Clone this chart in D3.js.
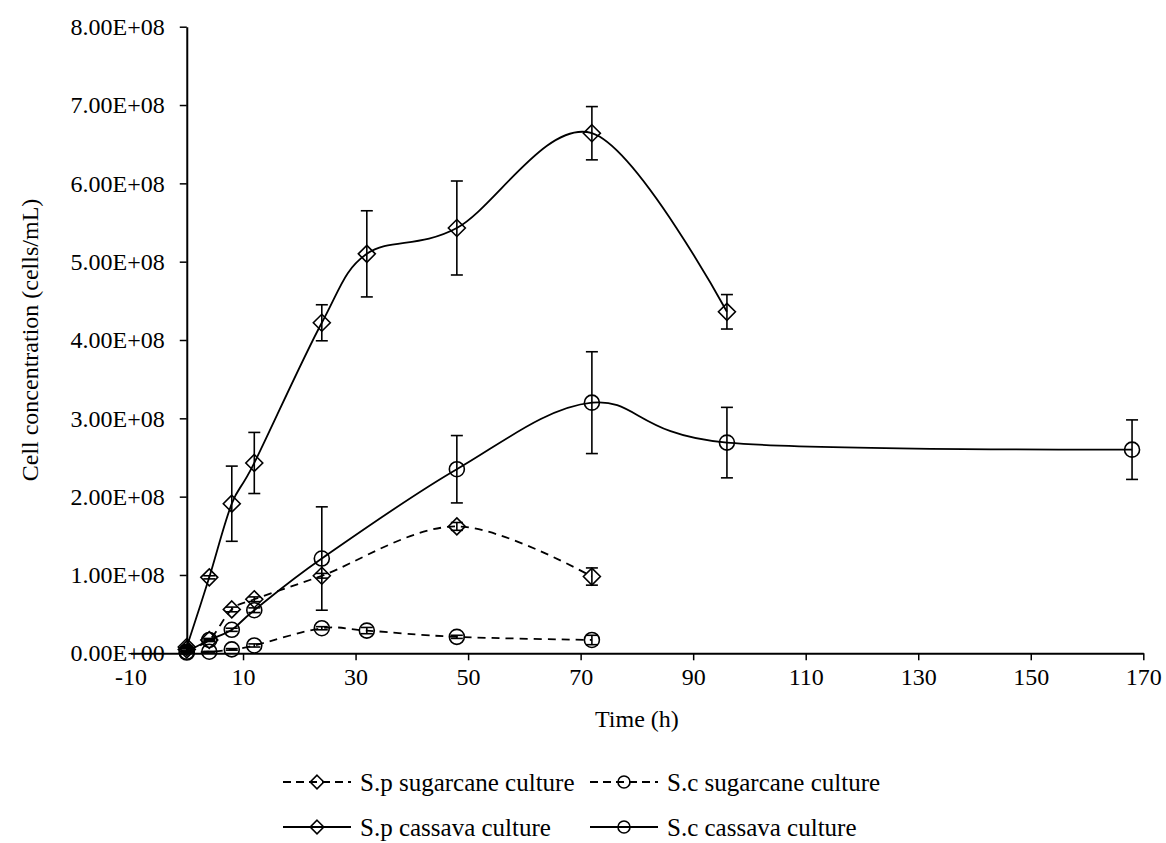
<!DOCTYPE html>
<html>
<head>
<meta charset="utf-8">
<script src="https://cdn.jsdelivr.net/npm/d3@7"></script>
<style>
  html, body { margin: 0; padding: 0; background: #fff; }
  svg { display: block; font-family: "Liberation Serif", "Times New Roman", serif; }
</style>
</head>
<body>
<svg id="chart" width="1166" height="843"></svg>
<script>
// Sampling times (h)
const timesSpSugar = [0, 4, 8, 12, 24, 48, 72];
const timesScSugar = [0, 4, 8, 12, 24, 32, 48, 72];
const timesSpCassava = [0, 4, 8, 12, 24, 32, 48, 72, 96];
const timesScCassava = [0, 4, 8, 12, 24, 48, 72, 96, 168];

// Cell concentration (cells/mL) and standard deviations
const spSugar    = [0.05e8, 0.17e8, 0.56e8, 0.69e8, 0.99e8, 1.62e8, 0.98e8];
const spSugarErr = [0.01e8, 0.01e8, 0.03e8, 0.03e8, 0.03e8, 0.05e8, 0.11e8];
const scSugar    = [0.01e8, 0.02e8, 0.05e8, 0.10e8, 0.32e8, 0.29e8, 0.21e8, 0.17e8];
const scSugarErr = [0.005e8, 0.005e8, 0.01e8, 0.02e8, 0.02e8, 0.04e8, 0.02e8, 0.06e8];
const spCassava    = [0.08e8, 0.97e8, 1.91e8, 2.43e8, 4.22e8, 5.10e8, 5.43e8, 6.64e8, 4.36e8];
const spCassavaErr = [0.01e8, 0.02e8, 0.48e8, 0.39e8, 0.23e8, 0.55e8, 0.60e8, 0.34e8, 0.22e8];
const scCassava    = [0.02e8, 0.17e8, 0.30e8, 0.55e8, 1.21e8, 2.35e8, 3.20e8, 2.69e8, 2.60e8];
const scCassavaErr = [0.005e8, 0.02e8, 0.02e8, 0.03e8, 0.66e8, 0.43e8, 0.65e8, 0.45e8, 0.38e8];

// Axis ticks
const xTicks = [-10, 10, 30, 50, 70, 90, 110, 130, 150, 170];
const yTicks = [0, 1e8, 2e8, 3e8, 4e8, 5e8, 6e8, 7e8, 8e8];

const seriesNames = ["S.p sugarcane culture", "S.c sugarcane culture", "S.p cassava culture", "S.c cassava culture"];

function build(times, vals, errs) {
  return times.map((t, i) => ({ t: t, v: vals[i], e: errs[i] }));
}

const series = [
  { name: seriesNames[0], data: build(timesSpSugar, spSugar, spSugarErr), marker: "diamond", dashed: true },
  { name: seriesNames[1], data: build(timesScSugar, scSugar, scSugarErr), marker: "circle", dashed: true },
  { name: seriesNames[2], data: build(timesSpCassava, spCassava, spCassavaErr), marker: "diamond", dashed: false },
  { name: seriesNames[3], data: build(timesScCassava, scCassava, scCassavaErr), marker: "circle", dashed: false }
];

const svg = d3.select("#chart");
const margin = { top: 26.7, right: 22.7, bottom: 189.7, left: 130.5 };
const W = 1166, H = 843;

const x = d3.scaleLinear().domain([-10, 170]).range([margin.left, W - margin.right]);
const y = d3.scaleLinear().domain([0, 8e8]).range([H - margin.bottom, margin.top]);

// Scientific tick labels, e.g. 3.00E+08
function sci(v) {
  if (v === 0) return "0.00E+00";
  const exp = Math.floor(Math.log10(Math.abs(v)));
  const mant = v / Math.pow(10, exp);
  return mant.toFixed(2) + "E+" + String(exp).padStart(2, "0");
}

const FONT = 24;
const LEGEND_FONT = 25;
const axisColor = "#000";

// X axis (crosses at y = 0)
const xAxis = svg.append("g")
  .attr("transform", `translate(0,${y(0)})`)
  .call(d3.axisBottom(x).tickValues(xTicks).tickSize(7).tickSizeOuter(0).tickPadding(8).tickFormat(d => String(d)));
// Y axis (crosses at x = 0)
const yAxis = svg.append("g")
  .attr("transform", `translate(${x(0)},0)`)
  .call(d3.axisLeft(y).tickValues(yTicks).tickSize(7).tickSizeOuter(0).tickPadding(15).tickFormat(sci));

[xAxis, yAxis].forEach(g => {
  g.selectAll("path.domain").attr("stroke", axisColor).attr("stroke-width", 2);
  g.selectAll(".tick line").attr("stroke", axisColor).attr("stroke-width", 1.5);
  g.selectAll(".tick text")
    .attr("fill", "#000")
    .style("font-size", FONT + "px")
    .style("font-family", '"Liberation Serif", "Times New Roman", serif');
});
// No tick at the far-left end of the x axis
xAxis.selectAll(".tick").filter(d => d === -10).select("line").remove();

// Axis titles
svg.append("text")
  .attr("x", x(80)).attr("y", 727)
  .attr("text-anchor", "middle")
  .style("font-size", FONT + "px")
  .text("Time (h)");

svg.append("text")
  .attr("transform", `translate(38,${y(4e8)}) rotate(-90)`)
  .attr("text-anchor", "middle")
  .style("font-size", FONT + "px")
  .text("Cell concentration (cells/mL)");

const line = d3.line()
  .x(d => x(d.t))
  .y(d => y(d.v))
  .curve(d3.curveCatmullRom.alpha(0));

const plot = svg.append("g");

const CAP = 6;

function drawMarker(g, type, cx, cy, size) {
  if (type === "diamond") {
    const s = size * 1.13;
    g.append("path")
      .attr("d", `M${cx},${cy - s}L${cx + s},${cy}L${cx},${cy + s}L${cx - s},${cy}Z`)
      .attr("fill", "none").attr("stroke", "#000").attr("stroke-width", 1.6);
  } else {
    g.append("circle")
      .attr("cx", cx).attr("cy", cy).attr("r", size)
      .attr("fill", "none").attr("stroke", "#000").attr("stroke-width", 1.6);
  }
}

series.forEach(s => {
  plot.append("path")
    .datum(s.data)
    .attr("d", line)
    .attr("fill", "none")
    .attr("stroke", "#000")
    .attr("stroke-width", 1.8)
    .attr("stroke-dasharray", s.dashed ? "8,6" : null);

  const eg = plot.append("g").attr("stroke", "#000").attr("stroke-width", 1.6);
  s.data.forEach(d => {
    const xp = x(d.t), y1 = y(d.v + d.e), y2 = y(d.v - d.e);
    eg.append("line").attr("x1", xp).attr("x2", xp).attr("y1", y1).attr("y2", y2);
    eg.append("line").attr("x1", xp - CAP).attr("x2", xp + CAP).attr("y1", y1).attr("y2", y1);
    eg.append("line").attr("x1", xp - CAP).attr("x2", xp + CAP).attr("y1", y2).attr("y2", y2);
  });

  const mg = plot.append("g");
  s.data.forEach(d => drawMarker(mg, s.marker, x(d.t), y(d.v), 7.5));
});

// Legend: two rows, two columns
const legendCols = [283, 590];
const legendRows = [782, 827];
const SYMBOL_W = 68;
const legend = svg.append("g");
series.forEach((s, i) => {
  const lx = legendCols[i % 2], ly = legendRows[Math.floor(i / 2)];
  const g = legend.append("g");
  g.append("line")
    .attr("x1", lx).attr("x2", lx + SYMBOL_W).attr("y1", ly).attr("y2", ly)
    .attr("stroke", "#000").attr("stroke-width", 1.8)
    .attr("stroke-dasharray", s.dashed ? "8,5" : null);
  drawMarker(g, s.marker, lx + SYMBOL_W / 2, ly, 6);
  g.append("text")
    .attr("x", lx + SYMBOL_W + 9).attr("y", ly)
    .attr("dy", "0.35em")
    .style("font-size", LEGEND_FONT + "px")
    .text(s.name);
});
</script>
</body>
</html>
